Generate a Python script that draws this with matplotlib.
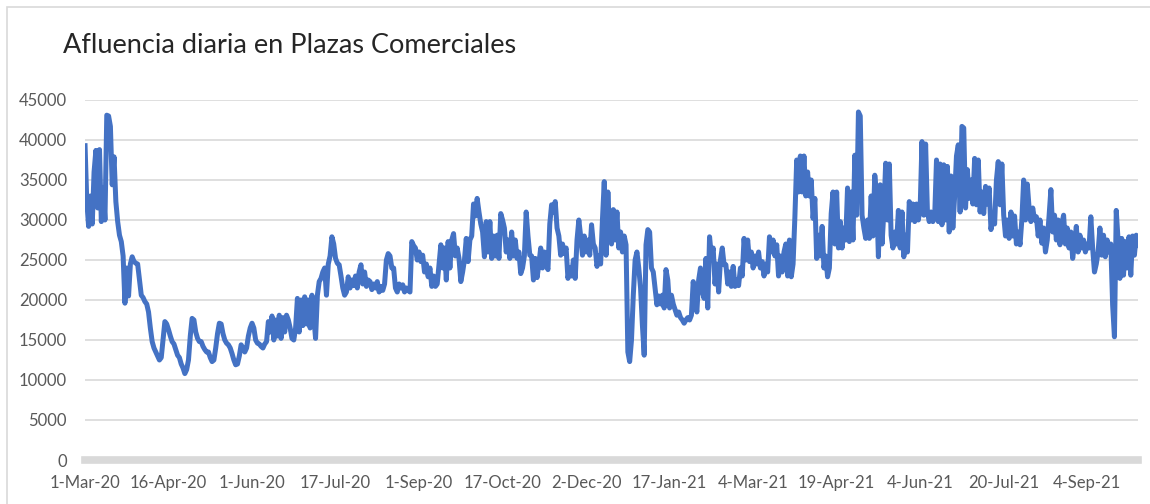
import numpy as np
import pandas as pd
import matplotlib
matplotlib.use("Agg")
import matplotlib.pyplot as plt
from matplotlib.patches import Rectangle

plt.rcParams['font.family'] = ['Lato', 'DejaVu Sans']

# afluencia diaria (miles de visitantes), desde 1-Mar-20, un valor por dia
afluencia_miles = [
    39.6, 32.3, 29.2, 33.0, 29.5, 36.0, 38.7, 31.5, 38.8, 29.8,
    34.0, 30.0, 43.1, 43.0, 41.7, 34.4, 37.9, 32.3, 29.8, 28.1,
    27.3, 25.5, 19.6, 24.0, 20.5, 24.5, 25.4, 24.8, 24.6, 24.5,
    22.5, 20.6, 20.3, 19.8, 19.5, 18.5, 16.5, 14.8, 14.0, 13.5,
    13.0, 12.5, 12.8, 15.0, 17.3, 17.0, 16.3, 15.5, 14.8, 14.5,
    13.8, 13.1, 12.8, 12.0, 11.5, 10.8, 11.3, 12.5, 15.5, 17.7,
    17.5, 16.0, 15.2, 14.8, 14.8, 14.2, 13.8, 13.5, 13.5, 12.8,
    12.3, 12.5, 14.0, 15.8, 17.1, 17.0, 15.8, 15.0, 14.6, 14.4,
    14.0, 13.3, 12.5, 11.9, 12.0, 13.0, 14.4, 14.0, 13.5, 14.0,
    15.5, 16.5, 17.1, 16.5, 15.0, 14.6, 14.5, 14.2, 14.0, 14.5,
    14.8, 17.3, 16.0, 18.0, 15.0, 17.5, 15.5, 18.1, 15.2, 17.8,
    16.0, 18.1, 17.5, 16.5, 15.2, 15.0, 16.5, 20.2, 16.0, 20.0,
    16.8, 20.4, 17.0, 20.0, 16.5, 20.6, 18.0, 15.2, 20.6, 22.3,
    22.7, 23.5, 24.0, 20.6, 24.5, 25.5, 27.9, 27.0, 25.2, 24.6,
    24.4, 23.0, 21.5, 20.6, 21.0, 22.9, 21.5, 22.5, 21.8, 23.0,
    21.5, 23.5, 24.4, 22.0, 23.5, 21.7, 22.5, 22.3, 21.3, 22.0,
    21.5, 22.3, 21.0, 21.7, 21.2, 22.0, 25.0, 25.8, 25.5, 24.0,
    24.0, 21.5, 21.0, 22.0, 21.5, 21.9, 21.0, 21.5, 21.2, 21.0,
    27.3, 26.8, 26.5, 25.0, 26.0, 24.8, 25.6, 23.5, 24.5, 22.9,
    24.0, 21.7, 23.0, 21.7, 22.0, 24.5, 26.9, 24.0, 26.5, 22.5,
    27.3, 24.0, 27.5, 28.3, 25.5, 26.5, 25.2, 22.3, 23.5, 25.0,
    27.7, 24.8, 27.5, 28.0, 32.0, 30.5, 32.7, 31.0, 29.5, 28.5,
    25.4, 29.8, 26.0, 29.8, 25.2, 28.0, 25.5, 28.1, 25.2, 30.8,
    30.0, 29.0, 26.0, 27.5, 25.2, 28.5, 25.5, 27.5, 25.2, 26.0,
    23.3, 24.0, 25.5, 31.0, 28.0, 25.6, 25.5, 22.5, 25.2, 22.8,
    24.5, 26.5, 24.0, 26.0, 24.5, 23.8, 29.5, 31.9, 31.0, 32.3,
    29.0, 28.0, 25.6, 27.0, 25.8, 26.5, 22.7, 24.0, 23.0, 25.0,
    22.7, 27.5, 30.0, 28.0, 25.6, 28.0, 26.0, 27.5, 25.6, 29.4,
    27.0, 26.5, 24.2, 25.5, 24.5, 30.0, 34.8, 25.6, 33.5, 28.1,
    27.0, 31.3, 27.5, 31.0, 26.5, 28.5, 26.0, 28.0, 26.9, 13.5,
    12.3, 15.0, 20.6, 25.0, 26.0, 24.0, 21.5, 16.9, 13.1, 26.9,
    28.8, 28.5, 24.0, 23.5, 21.5, 19.4, 20.5, 19.5, 20.6, 19.0,
    23.8, 22.5, 19.0, 20.6, 19.5, 18.8, 18.1, 18.5, 17.8, 17.5,
    17.1, 17.5, 17.8, 17.5, 18.1, 22.3, 20.0, 18.5, 22.5, 24.0,
    21.0, 20.2, 25.2, 19.0, 27.9, 25.5, 26.5, 22.0, 24.5, 21.0,
    25.0, 26.5, 24.4, 24.4, 22.0, 23.5, 21.7, 24.2, 21.7, 22.5,
    21.8, 24.0, 23.0, 27.7, 25.0, 27.5, 24.8, 26.0, 24.0, 25.5,
    24.5, 26.0, 24.0, 24.8, 23.0, 24.5, 23.5, 27.9, 26.0, 27.5,
    25.5, 26.9, 23.0, 25.5, 23.5, 26.0, 27.0, 23.0, 27.5, 22.9,
    24.5, 30.4, 37.5, 33.5, 38.0, 33.5, 38.0, 33.0, 36.0, 33.0,
    35.0, 30.2, 32.7, 25.2, 28.1, 25.5, 29.2, 24.0, 25.5, 22.9,
    24.0, 30.8, 33.5, 27.0, 33.5, 26.5, 29.8, 26.5, 29.0, 27.5,
    34.0, 27.3, 33.5, 27.5, 38.1, 30.6, 43.5, 43.0, 30.6, 29.0,
    27.7, 30.0, 27.7, 33.0, 28.0, 35.6, 33.0, 25.4, 34.4, 27.0,
    31.0, 37.1, 30.0, 37.0, 28.1, 26.5, 28.5, 27.0, 31.2, 26.5,
    31.0, 25.4, 28.1, 26.0, 32.3, 30.0, 32.0, 29.8, 32.0, 30.0,
    31.5, 39.8, 30.6, 39.5, 31.0, 29.8, 31.0, 29.8, 30.5, 37.5,
    29.8, 37.0, 29.4, 36.9, 30.0, 36.7, 28.5, 35.5, 29.0, 33.0,
    38.0, 39.4, 31.0, 41.7, 41.5, 31.5, 36.3, 32.7, 35.0, 32.0,
    37.7, 31.9, 37.5, 31.0, 33.5, 30.8, 34.2, 32.0, 34.0, 28.8,
    30.5, 29.5, 35.0, 37.3, 31.9, 37.0, 30.6, 28.0, 30.0, 27.7,
    31.0, 28.0, 30.5, 27.0, 28.5, 26.9, 30.0, 35.0, 30.0, 34.5,
    31.5, 29.8, 31.5, 30.0, 30.4, 28.0, 30.0, 27.1, 29.0, 26.0,
    27.5, 30.5, 33.8, 28.5, 30.6, 27.5, 30.0, 26.9, 29.5, 30.6,
    27.0, 29.0, 26.5, 28.5, 25.2, 27.0, 29.2, 26.0, 28.1, 26.5,
    27.5, 26.0, 27.0, 26.5, 30.4, 26.5, 23.5, 24.5, 26.0, 29.0,
    25.6, 28.1, 25.4, 27.5, 26.0, 27.0, 19.4, 15.4, 31.2, 27.5,
    22.7, 27.7, 23.1, 27.3, 24.0, 27.9, 23.1, 28.0, 25.6, 28.1,
    26.5,
]
fecha_inicio = "2020-03-01"

tick_labels = ["1-Mar-20", "16-Apr-20", "1-Jun-20", "17-Jul-20", "1-Sep-20",
               "17-Oct-20", "2-Dec-20", "17-Jan-21", "4-Mar-21", "19-Apr-21",
               "4-Jun-21", "20-Jul-21", "4-Sep-21"]
y_ticks = [0, 5000, 10000, 15000, 20000, 25000, 30000, 35000, 40000, 45000]

fechas = pd.date_range(fecha_inicio, periods=len(afluencia_miles), freq="D")
afluencia = np.array(afluencia_miles) * 1000
tick_fechas = pd.to_datetime(tick_labels, format="%d-%b-%y")

fig = plt.figure(figsize=(11.5, 5.04), dpi=100)
ax = fig.add_axes([0.0739, 0.0873, 0.9157, 0.7143])

ax.plot(fechas, afluencia, color="#4472C4", lw=3.6, solid_joinstyle="round",
        solid_capstyle="butt", zorder=3)

ax.set_ylim(0, 45000)
ax.set_xlim(fechas[0], fechas[-1])
ax.set_yticks(y_ticks)
ax.set_yticklabels([str(v) for v in y_ticks])
ax.set_xticks(tick_fechas)
ax.set_xticklabels(tick_labels)

ax.grid(axis="y", color="#d9d9d9", lw=1.2, zorder=0)
ax.grid(axis="x", visible=False)
for s in ["top", "right", "left"]:
    ax.spines[s].set_visible(False)
ax.spines["bottom"].set_color("#d9d9d9")
ax.spines["bottom"].set_linewidth(5.5)
ax.tick_params(length=0, labelsize=12, colors="#595959")
ax.tick_params(axis="y", pad=13)
ax.tick_params(axis="x", pad=11)

fig.text(0.055, 0.91, "Afluencia diaria en Plazas Comerciales", fontsize=19.5,
         color="#262626", va="center", ha="left")

# marco del grafico
fig.patches.append(Rectangle((7 / 1150, -0.1), 1.2, 1.1 - 7 / 504, transform=fig.transFigure,
                             fill=False, edgecolor="#d9d9d9", lw=1.2))

fig.savefig("out.png", dpi=100)
